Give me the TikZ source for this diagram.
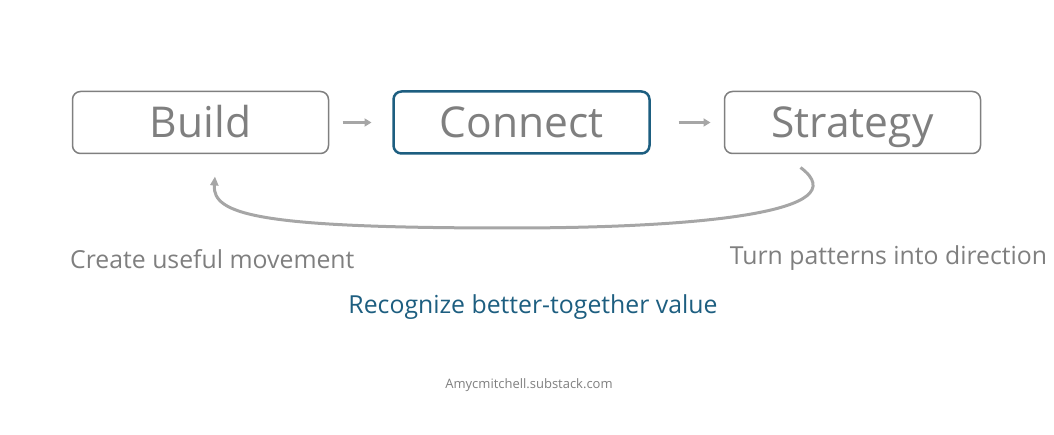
\documentclass[tikz,border=0pt]{standalone}
\usepackage{fontspec}
\setmainfont{Open Sans}
\usetikzlibrary{arrows.meta,positioning}
\definecolor{boxgray}{HTML}{7F7F7F}
\definecolor{linkgray}{HTML}{A6A6A6}
\definecolor{deepteal}{HTML}{1D5E80}

\begin{document}
\begin{tikzpicture}[
  x=1pt, y=-1pt,
  node distance=64pt,
  stage/.style={draw=boxgray, line width=1.5pt, rounded corners=8pt, minimum width=256pt, minimum height=62pt, inner sep=0pt, outer sep=0pt, text height=30pt, text depth=0pt, text=boxgray, font=\fontsize{42.5}{48}\selectfont},
  focus/.style={stage, draw=deepteal, line width=2.5pt},
  note/.style={text=boxgray, inner sep=0pt, font=\fontsize{24.8}{28}\selectfont},
  ar/.style={-{Triangle[length=7pt, width=8pt]}, line width=3pt, linkgray},
  loop/.style={-{Triangle[length=9pt, width=8pt]}, line width=3pt, linkgray}
]
\useasboundingbox (0,0) rectangle (1054,435);

\node[stage] (build) at (200.5,122.5) {Build};
\node[focus, right=65pt of build] (connect) {Connect};
\node[stage, right=75pt of connect] (strategy) {Strategy};

\draw[ar, shorten <=14pt, shorten >=22pt] (build) -- (connect);
\draw[ar, shorten <=29pt, shorten >=14pt] (connect) -- (strategy);

% feedback from strategy back to build
\coordinate (loopstart) at ([xshift=-52pt, yshift=-14pt]strategy.south);
\coordinate (loopend) at ([xshift=14.5pt, yshift=-23pt]build.south);
\draw[loop] (loopstart) .. controls (860,212) and (700,228) .. (510,228)
  .. controls (260,228) and (212,215) .. (loopend);

\node[note, anchor=base west] (buildnote) at (70,268.9) {Create useful movement};
\node[note, anchor=base] (strategynote) at (888.5,264.2) {Turn patterns into direction};
\node[note, anchor=base, text=deepteal] (connectnote) at (533,313.5) {Recognize better-together value};
\node[note, anchor=base, font=\fontsize{13}{16}\selectfont] (credit) at (529,388) {Amycmitchell.substack.com};

\end{tikzpicture}
\end{document}
